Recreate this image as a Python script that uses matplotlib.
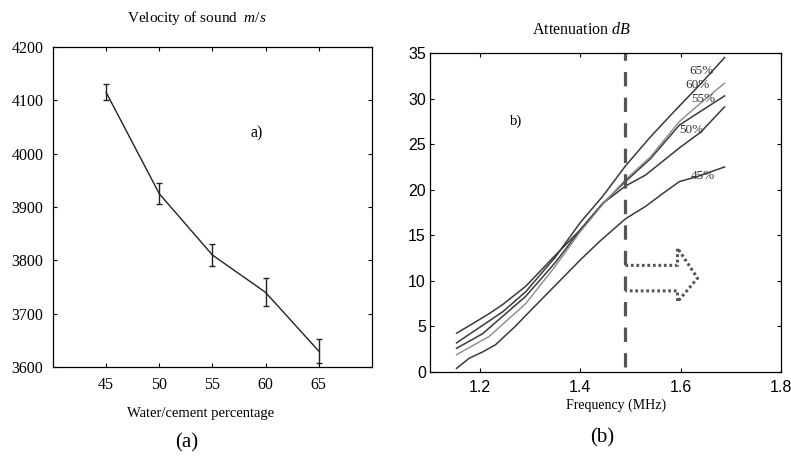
import matplotlib
matplotlib.use("Agg")
import matplotlib.pyplot as plt

plt.rcParams['font.family'] = 'Liberation Serif'
plt.rcParams['mathtext.fontset'] = 'custom'
plt.rcParams['mathtext.it'] = 'Liberation Serif:italic'
plt.rcParams['mathtext.rm'] = 'Liberation Serif'

# (a) velocity of sound vs water/cement percentage
wc = [45, 50, 55, 60, 65]
velocity = [4115, 3925, 3810, 3740, 3630]
vel_err = [15, 20, 21, 26, 22]

# (b) attenuation vs frequency, one curve per w/c ratio
f45 = [1.153, 1.178, 1.205, 1.231, 1.27, 1.30, 1.35, 1.40, 1.44, 1.49, 1.531, 1.565, 1.598, 1.631, 1.688]
a45 = [0.4, 1.5, 2.2, 3.0, 5.0, 6.7, 9.5, 12.3, 14.4, 16.8, 18.2, 19.6, 20.9, 21.4, 22.5]
f50 = [1.153, 1.185, 1.218, 1.245, 1.291, 1.35, 1.40, 1.445, 1.49, 1.53, 1.598, 1.64, 1.688]
a50 = [4.25, 5.3, 6.4, 7.4, 9.4, 12.8, 15.6, 18.5, 20.4, 21.6, 24.6, 26.3, 29.1]
f55 = [1.153, 1.205, 1.291, 1.35, 1.40, 1.445, 1.49, 1.54, 1.598, 1.64, 1.688]
a55 = [2.6, 4.2, 8.3, 12.0, 15.6, 18.5, 20.9, 23.4, 27.1, 28.6, 30.3]
f60 = [1.153, 1.218, 1.291, 1.35, 1.40, 1.445, 1.49, 1.54, 1.598, 1.64, 1.688]
a60 = [1.9, 3.9, 7.5, 11.6, 15.4, 18.4, 21.1, 23.6, 27.5, 29.5, 31.7]
f65 = [1.153, 1.191, 1.245, 1.291, 1.35, 1.40, 1.445, 1.49, 1.54, 1.591, 1.64, 1.688]
a65 = [3.2, 4.6, 6.6, 8.8, 12.6, 16.4, 19.3, 22.6, 25.8, 28.8, 31.6, 34.5]
curve_labels = ['45%', '50%', '55%', '60%', '65%']
label_x = [1.645, 1.621, 1.645, 1.635, 1.641]
label_y = [21.5, 26.5, 29.9, 31.5, 33.0]

cutoff = 1.49
arrow_x = [1.49, 1.594, 1.594, 1.634, 1.594, 1.594, 1.49]
arrow_y = [11.7, 11.7, 13.6, 10.3, 7.7, 8.9, 8.9]

fig = plt.figure(figsize=(7.91, 4.57), dpi=100)

# ---- panel (a)
ax1 = fig.add_axes([0.067, 0.197, 0.403, 0.700])
ax1.errorbar(wc, velocity, yerr=vel_err, color='#222222', lw=1.0,
             capsize=2.5, elinewidth=1.0, capthick=1.0)
ax1.set_xlim(40, 70)
ax1.set_ylim(3600, 4200)
ax1.set_xticks(wc)
ax1.set_yticks(range(3600, 4201, 100))
ax1.tick_params(direction='in', top=True, right=True, length=3, labelsize=11.5, pad=7)
for s in ax1.spines.values():
    s.set_linewidth(0.9)
ax1.text(59.2, 4039, 'a)', fontsize=11.5, ha='center', va='center')
fig.text(0.249, 0.961, r'Velocity of sound  $\mathit{m/s}$', fontsize=11, ha='center', va='center')
fig.text(0.253, 0.096, 'Water/cement percentage', fontsize=10.5, ha='center', va='center')
fig.text(0.236, 0.031, '(a)', fontsize=15, ha='center', va='center')

# ---- panel (b)
ax2 = fig.add_axes([0.5436, 0.186, 0.4434, 0.698])
dark = '#3a3a3a'
ax2.plot(f45, a45, color=dark, lw=1.1)
ax2.plot(f50, a50, color=dark, lw=1.1)
ax2.plot(f55, a55, color=dark, lw=1.1)
ax2.plot(f60, a60, color='#8a8a8a', lw=1.0)
ax2.plot(f65, a65, color=dark, lw=1.1)
for t, x, y in zip(curve_labels, label_x, label_y):
    ax2.text(x, y, t, fontsize=9.5, ha='center', va='center', color='#333333')
ax2.plot([cutoff, cutoff], [0.6, 35], color='#555555', lw=2.3, ls=(0, (4.5, 3.5)))
ax2.plot(arrow_x, arrow_y, color='#555555', lw=2.2, ls=(0, (0.9, 0.9)))
ax2.set_xlim(1.1, 1.8)
ax2.set_ylim(0, 35)
ax2.set_xticks([1.2, 1.4, 1.6, 1.8])
ax2.set_xticklabels(['1.2', '1.4', '1.6', '1.8'])
ax2.set_yticks(range(0, 36, 5))
ax2.tick_params(direction='in', top=True, right=True, length=3, labelsize=11.5)
ax2.tick_params(axis='y', pad=3)
ax2.tick_params(axis='x', pad=6)
for lab in ax2.get_xticklabels() + ax2.get_yticklabels():
    lab.set_family('Liberation Sans')
for s in ax2.spines.values():
    s.set_linewidth(0.9)
ax2.text(1.271, 27.5, 'b)', fontsize=10.5, ha='center', va='center')
fig.text(0.735, 0.934, r'Attenuation $\mathit{dB}$', fontsize=11.5, ha='center', va='center')
fig.text(0.779, 0.114, 'Frequency (MHz)', fontsize=10, ha='center', va='center')
fig.text(0.761, 0.041, '(b)', fontsize=15, ha='center', va='center')

fig.savefig('out.png', dpi=100)
